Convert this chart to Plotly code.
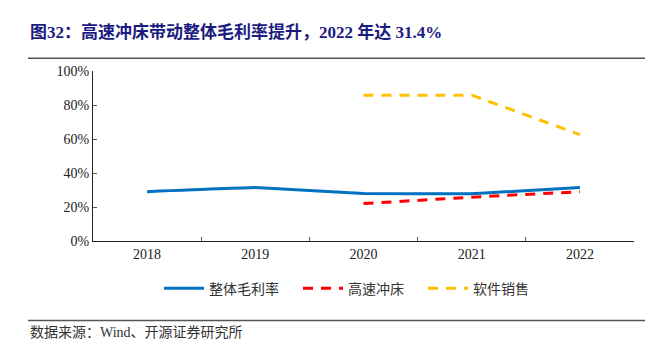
import plotly.graph_objects as go

years = ["2018", "2019", "2020", "2021", "2022"]
overall = [29.0, 31.4, 28.0, 27.8, 31.4]
stamping = [None, None, 22.0, 25.8, 29.0]
software = [None, None, 85.8, 85.8, 62.6]
names = ["整体毛利率", "高速冲床", "软件销售"]

W, H = 669, 350
L, R, T, B = 93, 35, 70.7, 108.7
pw = W - L - R
ph = H - T - B

def px_x(x):
    return (x - L) / pw

def px_y(y):
    return (H - B - y) / ph

font_family = "Liberation Serif, Noto Sans CJK SC, serif"
gap = "\u2003"

fig = go.Figure()
fig.add_trace(go.Scatter(x=years, y=overall, name=names[0] + gap, mode="lines",
                         line=dict(color="#0070C0", width=3, shape="spline", smoothing=0.15)))
fig.add_trace(go.Scatter(x=years, y=stamping, name=names[1] + gap, mode="lines",
                         line=dict(color="#FF0000", width=3, dash="10px,8px")))
fig.add_trace(go.Scatter(x=years, y=software, name=names[2], mode="lines",
                         line=dict(color="#FFC000", width=3, dash="10px,8px")))

fig.update_layout(
    width=W, height=H,
    margin=dict(l=L, r=R, t=T, b=B, pad=0),
    paper_bgcolor="white", plot_bgcolor="white",
    font=dict(family=font_family, size=13, color="#222"),
    showlegend=True,
    legend=dict(orientation="h", x=px_x(346.5), xanchor="center", y=px_y(289), yanchor="middle",
                font=dict(family="Noto Sans CJK SC", size=14, color="#333"),
                itemwidth=40, tracegroupgap=0),
    xaxis=dict(type="category", range=[-0.5, 4.5], showline=True, linecolor="#222", linewidth=1.3,
               ticks="inside", tickson="boundaries", ticklen=4, tickcolor="#555",
               showgrid=False, zeroline=False, tickfont=dict(size=14, color="#222")),
    yaxis=dict(range=[0, 100], dtick=20, ticksuffix="%", showline=True, linecolor="#222", linewidth=1.3,
               ticks="inside", ticklen=4, tickcolor="#555", showgrid=False, zeroline=False,
               tickfont=dict(size=14, color="#222")),
)

fig.add_annotation(text="<b>图32：高速冲床带动整体毛利率提升，2022 年达 31.4%</b>",
                   xref="paper", yref="paper", x=px_x(28), y=px_y(32), xanchor="left", yanchor="middle",
                   showarrow=False, font=dict(family=font_family, size=17, color="#1B1B80"))
fig.add_annotation(text="数据来源：Wind、开源证券研究所",
                   xref="paper", yref="paper", x=px_x(28), y=px_y(333), xanchor="left", yanchor="middle",
                   showarrow=False, font=dict(family=font_family, size=14, color="#333"))
fig.add_shape(type="line", xref="paper", yref="paper", x0=px_x(28), x1=px_x(645),
              y0=px_y(58), y1=px_y(58), line=dict(color="#555", width=1.5))
fig.add_shape(type="line", xref="paper", yref="paper", x0=px_x(28), x1=px_x(645),
              y0=px_y(321), y1=px_y(321), line=dict(color="#555", width=1.5))

fig.write_html("out.html")
